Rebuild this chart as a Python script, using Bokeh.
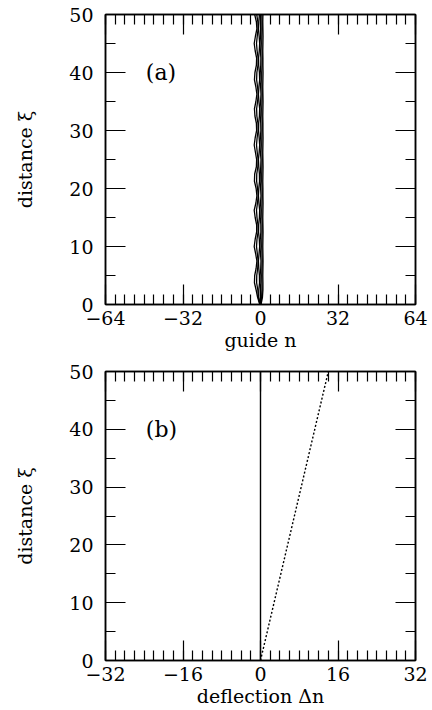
from bokeh.plotting import figure
from bokeh.models import LinearAxis, FixedTicker, Range1d, Label
from bokeh.layouts import column
from bokeh.embed import file_html
from bokeh.resources import INLINE

# ---- data ----
xi = [0, 1.25, 2.5, 3.75, 5, 6.25, 7.5, 8.75, 10, 11.25, 12.5, 13.75, 15, 16.25,
      17.5, 18.75, 20, 21.25, 22.5, 23.75, 25, 26.25, 27.5, 28.75, 30, 31.25,
      32.5, 33.75, 35, 36.25, 37.5, 38.75, 40, 41.25, 42.5, 43.75, 45, 46.25,
      47.5, 48.75, 50]

line1 = [-0.3, -1.2, -1.8, -2.5, -2.4, -1.8, -1.5, -2.0, -2.6, -2.2, -1.6, -1.6,
         -2.2, -2.6, -1.9, -1.5, -1.8, -2.5, -2.4, -1.7, -1.6, -2.1, -2.6, -2.2,
         -1.6, -1.7, -2.3, -2.5, -1.9, -1.5, -1.9, -2.5, -2.3, -1.7, -1.6, -2.2,
         -2.6, -2.1, -1.5, -1.7, -2.4]
line2 = [-0.2, -0.9, -1.1, -1.6, -1.55, -1.15, -1.0, -1.3, -1.65, -1.45, -1.0, -1.05,
         -1.45, -1.65, -1.25, -0.95, -1.2, -1.6, -1.55, -1.1, -1.0, -1.35, -1.65,
         -1.4, -1.0, -1.05, -1.5, -1.6, -1.2, -0.95, -1.2, -1.6, -1.5, -1.05, -1.0,
         -1.4, -1.65, -1.35, -1.0, -1.1, -1.55]
line3 = [-0.1, -0.75, -0.7, -0.4, -0.45, -0.7, -0.85, -0.6, -0.35, -0.5, -0.8, -0.75,
         -0.45, -0.35, -0.65, -0.85, -0.7, -0.4, -0.45, -0.7, -0.85, -0.55, -0.35,
         -0.55, -0.8, -0.75, -0.45, -0.35, -0.65, -0.85, -0.65, -0.35, -0.45, -0.75,
         -0.8, -0.5, -0.35, -0.55, -0.85, -0.7, -0.45]
line4 = [0.0, 0.2, 0.1, -0.15, -0.15, 0.1, 0.2, 0.0, -0.2, -0.1, 0.15, 0.15, -0.1,
         -0.2, 0.0, 0.2, 0.05, -0.15, -0.1, 0.1, 0.2, -0.05, -0.2, -0.05, 0.15,
         0.1, -0.1, -0.2, 0.05, 0.2, 0.05, -0.2, -0.1, 0.1, 0.15, -0.05,
         -0.2, 0.0, 0.2, 0.1, -0.1]
line5 = [0.1, 0.5, 0.65, 0.55, 0.5, 0.6, 0.7, 0.6, 0.5, 0.55, 0.65, 0.7, 0.55, 0.5,
         0.6, 0.7, 0.65, 0.5, 0.5, 0.6, 0.7, 0.6, 0.5, 0.55, 0.65, 0.7, 0.55, 0.5,
         0.6, 0.7, 0.6, 0.5, 0.5, 0.65, 0.7, 0.6, 0.5, 0.55, 0.7, 0.65, 0.55]
line6 = [0.2, 0.8, 1.0, 1.0, 0.95, 1.0, 1.05, 1.0, 0.95, 1.0, 1.05, 1.0, 0.95, 1.0,
         1.05, 1.0, 1.0, 0.95, 1.0, 1.05, 1.0, 0.95, 1.0, 1.05, 1.0, 1.0, 0.95, 1.0,
         1.05, 1.0, 0.95, 1.0, 1.05, 1.0, 1.0, 0.95, 1.0, 1.05, 1.0, 0.95, 1.0]
guide_lines = [line1, line2, line3, line4, line5, line6]

# panel (b)
center_dn = [0, 0]
center_xi = [0, 50]
width_dn = [0, 14]
width_xi = [0, 50]

xticks_a = [-64, -32, 0, 32, 64]
xminor_a = [-64, -60, -56, -52, -48, -44, -40, -36, -32, -28, -24, -20, -16, -12,
            -8, -4, 0, 4, 8, 12, 16, 20, 24, 28, 32, 36, 40, 44, 48, 52, 56, 60, 64]
xticks_b = [-32, -16, 0, 16, 32]
xminor_b = [-32, -30, -28, -26, -24, -22, -20, -18, -16, -14, -12, -10, -8, -6,
            -4, -2, 0, 2, 4, 6, 8, 10, 12, 14, 16, 18, 20, 22, 24, 26, 28, 30, 32]
yticks = [0, 10, 20, 30, 40, 50]
yminor = [0, 5, 10, 15, 20, 25, 30, 35, 40, 45, 50]

FONT = "DejaVu Serif"


def style_axis(ax, ticks, show_labels):
    ax.major_tick_in = 20
    ax.major_tick_out = 0
    ax.minor_tick_in = 10
    ax.minor_tick_out = 0
    ax.major_tick_line_width = 1.2
    ax.minor_tick_line_width = 1.2
    ax.major_tick_line_color = "black"
    ax.minor_tick_line_color = "black"
    ax.axis_line_color = "black"
    ax.axis_line_width = 1.5
    if show_labels:
        ax.major_label_text_font = FONT
        ax.major_label_text_font_size = "19px"
        ax.major_label_text_color = "black"
        ax.axis_label_text_font = FONT
        ax.axis_label_text_font_size = "19px"
        ax.axis_label_text_font_style = "normal"
        ax.axis_label_text_color = "black"
    else:
        ax.major_label_overrides = {t: "" for t in ticks}
        ax.major_label_standoff = 0


def make_panel(xr, xt, xm, xlabel, tag, h, top, bottom):
    p = figure(width=430, height=h, x_range=Range1d(*xr), y_range=Range1d(0, 50),
               output_backend="svg", toolbar_location=None,
               min_border_left=105, min_border_right=15,
               min_border_top=top, min_border_bottom=bottom)
    p.grid.visible = False
    p.outline_line_color = "black"
    p.outline_line_width = 1.5
    p.background_fill_color = "white"
    p.border_fill_color = "white"

    p.xaxis.ticker = FixedTicker(ticks=xt, minor_ticks=xm)
    p.yaxis.ticker = FixedTicker(ticks=yticks, minor_ticks=yminor)
    style_axis(p.xaxis[0], xt, True)
    style_axis(p.yaxis[0], yticks, True)
    p.xaxis.axis_label = xlabel
    p.yaxis.axis_label = "distance ξ"
    p.xaxis.major_label_standoff = 6
    p.xaxis.axis_label_standoff = 1
    p.yaxis.major_label_standoff = 12
    p.yaxis.axis_label_standoff = 30
    p.yaxis.major_label_orientation = "horizontal"

    top_ax = LinearAxis(ticker=FixedTicker(ticks=xt, minor_ticks=xm))
    style_axis(top_ax, xt, False)
    p.add_layout(top_ax, "above")
    right_ax = LinearAxis(ticker=FixedTicker(ticks=yticks, minor_ticks=yminor))
    style_axis(right_ax, yticks, False)
    p.add_layout(right_ax, "right")

    p.add_layout(Label(x=xr[0] + (xr[1] - xr[0]) * 0.13, y=40, text=tag,
                       text_font=FONT, text_font_size="22px", text_color="black",
                       text_baseline="middle", text_align="left"))
    return p


pa = make_panel((-64, 64), xticks_a, xminor_a, "guide n", "(a)", 357, 14, 53)
for ln in guide_lines:
    pa.line(ln, xi, line_color="black", line_width=1.3)

pb = make_panel((-32, 32), xticks_b, xminor_b, "deflection Δn", "(b)", 352, 14, 48)
pb.line(center_dn, center_xi, line_color="black", line_width=1.4)
pb.line(width_dn, width_xi, line_color="black", line_width=1.4, line_dash="2 2")

layout = column(pa, pb, spacing=0)
open("out.html", "w").write(file_html(layout, INLINE))
